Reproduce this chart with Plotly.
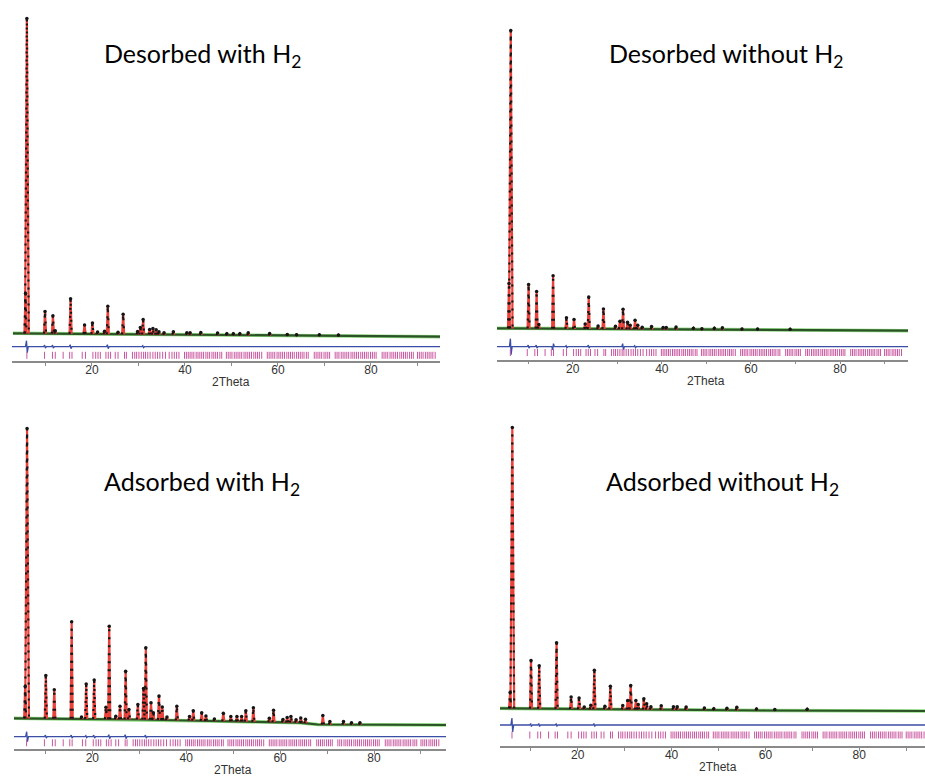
import numpy as np
import plotly.graph_objects as go

# ---------------- data ----------------
TITLES = ["Desorbed with H<sub>2</sub>", "Desorbed without H<sub>2</sub>",
          "Adsorbed with H<sub>2</sub>", "Adsorbed without H<sub>2</sub>"]
X_TICKS = [20, 40, 60, 80]
X_TICK_TEXT = ["20", "40", "60", "80"]
X_MINOR_TICKS = [10, 30, 50, 70, 90]
X_LABEL = "2Theta"

# Peak positions (2Theta) and observed peak heights above background (a.u.)
TL_POS = [5.7, 6.0, 9.9, 11.6, 12.1, 15.4, 18.4, 20.1, 21.2, 22.7, 23.4, 25.6, 26.7, 29.8, 30.4,
          31.0, 32.4, 33.1, 33.8, 34.4, 35.5, 37.5, 40.4, 41.1, 43.4, 47.0, 49.0, 50.4, 51.8, 53.6,
          58.2, 62.0, 64.0, 68.9, 73.0]
TL_INT = [40, 315, 22, 18, 3, 35, 9, 11, 2, 3, 28, 2, 20, 3, 7,
          15, 5, 6, 5, 3, 2, 3, 2, 2, 2.5, 2, 1.5, 1.5, 1.5, 2.5,
          2, 1, 1, 1, 1]

TR_POS = [5.7, 6.1, 10.1, 11.9, 12.4, 15.6, 18.6, 20.3, 22.8, 23.6, 25.7, 26.9, 29.6, 30.6, 31.3,
          32.3, 32.9, 34.0, 34.6, 35.6, 37.7, 40.3, 41.0, 43.2, 47.1, 49.0, 51.8, 53.6, 58.0, 61.5,
          68.8]
TR_INT = [45, 298, 44, 37, 4, 53, 11, 9.5, 5, 32, 3, 20, 3, 8, 20,
          7, 4, 9, 4, 2, 3, 2, 2, 2.5, 1.5, 1, 1.5, 2, 1, 1,
          1]

BL_POS = [5.7, 6.1, 10.1, 11.9, 15.6, 17.7, 18.7, 20.4, 22.9, 23.6, 25.0, 25.9, 27.1, 27.8, 29.7,
          30.9, 31.4, 32.5, 33.0, 34.2, 34.9, 35.9, 38.0, 40.7, 41.5, 43.3, 44.2, 46.0, 47.9, 49.5,
          50.8, 51.8, 52.7, 54.3, 57.7, 58.6, 60.6, 61.5, 62.3, 63.4, 64.4, 65.4, 69.1, 70.6, 73.5,
          75.2, 77.0]
BL_INT = [32, 290, 43, 29, 97, 2, 35, 39, 12, 93, 3, 13, 48, 10, 15,
          31, 72, 17, 7, 24, 13, 3, 14, 4, 10, 8, 5, 2, 8, 5,
          5, 5, 11, 14, 4, 12, 3, 5, 6, 3, 5, 4, 9, 3, 3,
          2, 2]

BR_POS = [5.6, 6.07, 10.06, 11.8, 15.5, 18.6, 20.3, 21.4, 22.8, 23.55, 25.8, 26.96, 29.6, 30.65, 31.3,
          32.4, 32.9, 34.1, 34.7, 35.6, 37.8, 40.4, 41.2, 43.1, 47.0, 49.0, 51.8, 53.9, 58.1, 62.0,
          68.9]
BR_INT = [16, 281, 48, 43, 66, 12, 11, 2, 4, 39, 3, 23, 4, 9, 24,
          9, 5, 11, 6, 3, 4, 3, 3, 3, 2, 1.5, 2, 3, 1.5, 1,
          1.5]

# Background (2Theta, level)
TL_BG_X = [3, 30, 60, 95]
TL_BG_Y = [27.7, 26.5, 25.5, 24.3]
TR_BG_X = [3, 30, 60, 96]
TR_BG_Y = [31.2, 30.3, 29.5, 28.8]
BL_BG_X = [3, 30, 45, 64, 68, 96]
BL_BG_Y = [30.7, 29.5, 28.0, 26.3, 24.5, 24.0]
BR_BG_X = [3, 30, 60, 95]
BR_BG_Y = [37.7, 36.5, 35.5, 35.0]

# Difference (obs - calc) spikes
TL_DIFF_X = [6.0, 9.9, 11.6, 15.4, 23.4, 31.0]
TL_DIFF_A = [6, 1.5, 1.5, 2, 2, 1]
TR_DIFF_X = [6.1, 10.1, 11.9, 15.6, 18.6, 23.6, 31.3, 34.0]
TR_DIFF_A = [8, 1.5, 1.5, -3, 1, 1.5, 3, 1]
BL_DIFF_X = [6.1, 10.1, 15.6, 18.7, 20.4, 23.6, 27.1, 31.4]
BL_DIFF_A = [5, 1.5, 1.5, 1, 1.5, 2, 2, 1.5]
BR_DIFF_X = [6.07, 10.06, 11.8, 15.5, 23.55]
BR_DIFF_A = [7, 1.5, 1.5, 1, 1.5]

# Reflection positions (2Theta)
REFLECTIONS = [6.0, 9.8, 11.5, 12.1, 13.8, 15.2, 15.7, 17.9, 18.6, 20.2, 20.8, 21.3, 21.8, 23.0,
               23.5, 24.0, 25.0, 25.6, 27.0, 27.4, 28.7, 29.2, 29.6, 30.1, 30.6, 31.1, 31.5, 32.0,
               32.5, 33.1, 33.6, 34.1, 34.6, 35.2, 35.8, 36.6,
               37.2, 37.7, 38.2, 38.7, 39.9, 40.3, 40.7, 41.1, 41.5, 41.9, 42.4, 42.8, 43.2, 43.6,
               44.0, 44.5, 44.9, 45.3, 45.8, 46.2, 46.6, 47.0, 47.5, 47.9, 48.9, 49.3, 49.7, 50.1,
               50.6, 51.0, 51.4, 51.8, 52.2, 52.7, 53.1, 53.5, 53.9, 54.3, 54.8, 55.2, 55.6, 56.0,
               56.5, 57.7, 58.1, 58.5, 58.9, 59.3, 59.8, 60.2, 60.6, 61.0, 61.4, 61.9, 62.3, 62.7,
               63.1, 63.5, 64.0, 64.4, 64.8, 65.2, 65.6, 66.1, 66.5, 67.8, 68.2, 68.6, 69.0, 69.4,
               69.9, 70.3, 70.7, 71.1, 72.3, 72.7, 73.1, 73.6, 74.0, 74.4, 74.8, 75.2, 75.7, 76.1,
               76.5, 76.9, 77.3, 77.8, 78.2, 78.6, 79.0, 79.4, 79.9, 80.3, 80.7, 81.1, 82.4, 82.8,
               83.2, 83.6, 84.1, 84.5, 84.9, 85.3, 85.7, 86.2, 86.6, 87.0, 87.4, 87.8, 88.3, 88.7,
               89.1, 90.0, 90.4, 90.8, 91.2, 91.7, 92.1, 92.5, 92.9, 93.3, 93.8]

# ---------------- layout geometry (pixels) ----------------
W, H = 925, 776
PANELS = [
    dict(pos=TL_POS, inten=TL_INT, bgx=TL_BG_X, bgy=TL_BG_Y, dx=TL_DIFF_X, da=TL_DIFF_A,
         l=12, r=440, xr=[2.8, 94.84], ay=361, top=10, diff=14.3, tick=5.7, title=(202, 55)),
    dict(pos=TR_POS, inten=TR_INT, bgx=TR_BG_X, bgy=TR_BG_Y, dx=TR_DIFF_X, da=TR_DIFF_A,
         l=497, r=908, xr=[3.01, 95.26], ay=359.5, top=10, diff=12.8, tick=7.0, title=(726, 55)),
    dict(pos=BL_POS, inten=BL_INT, bgx=BL_BG_X, bgy=BL_BG_Y, dx=BL_DIFF_X, da=BL_DIFF_A,
         l=14, r=446, xr=[3.32, 95.33], ay=749, top=410, diff=12.3, tick=6.2, title=(202, 483)),
    dict(pos=BR_POS, inten=BR_INT, bgx=BR_BG_X, bgy=BR_BG_Y, dx=BR_DIFF_X, da=BR_DIFF_A,
         l=500, r=925, xr=[3.45, 94.0], ay=746, top=410, diff=21.0, tick=11.0, title=(722, 483)),
]

RED = "#e8423a"
BLACK = "#151515"
DKGREEN = "#2c5228"
LTGREEN = "#8fdc7f"
BLUE = "#3b4ea6"
MAGENTA = "#c8559e"
AXGRAY = "#8a8a8a"

fig = go.Figure()
annotations = []

for i, p in enumerate(PANELS):
    n = "" if i == 0 else str(i + 1)
    xa, ya = "x" + n, "y" + n
    px, py = [], []
    for pos, h in zip(p["pos"], p["inten"]):
        b = float(np.interp(pos, p["bgx"], p["bgy"]))
        w = 0.4 if h > 150 else 0.22
        px += [pos - w, pos, pos + w, None]
        py += [b, b + h, b, None]
    apy = [float(np.interp(pos, p["bgx"], p["bgy"])) + h for pos, h in zip(p["pos"], p["inten"])]

    # background
    fig.add_trace(go.Scatter(x=p["bgx"], y=p["bgy"], mode="lines", xaxis=xa, yaxis=ya,
                             line=dict(color=LTGREEN, width=3.5), hoverinfo="skip"))
    fig.add_trace(go.Scatter(x=p["bgx"], y=p["bgy"], mode="lines", xaxis=xa, yaxis=ya,
                             line=dict(color=DKGREEN, width=2.2), hoverinfo="skip"))
    # calculated
    fig.add_trace(go.Scatter(x=px, y=py, mode="lines", xaxis=xa, yaxis=ya,
                             line=dict(color=RED, width=2.2), hoverinfo="skip"))
    # observed
    fig.add_trace(go.Scatter(x=px, y=py, mode="lines", xaxis=xa, yaxis=ya,
                             line=dict(color=BLACK, width=2.2, dash="2px,6px"), hoverinfo="skip"))
    fig.add_trace(go.Scatter(x=p["pos"], y=apy, mode="markers", xaxis=xa, yaxis=ya,
                             marker=dict(color=BLACK, size=3.5), hoverinfo="skip"))
    # difference curve
    dxs, dys = [p["xr"][0]], [p["diff"]]
    for pos, a in sorted(zip(p["dx"], p["da"])):
        dxs += [pos - 0.3, pos - 0.08, pos + 0.08, pos + 0.3]
        dys += [p["diff"], p["diff"] + a, p["diff"] - a, p["diff"]]
    dxs.append(p["xr"][1])
    dys.append(p["diff"])
    fig.add_trace(go.Scatter(x=dxs, y=dys, mode="lines", xaxis=xa, yaxis=ya,
                             line=dict(color=BLUE, width=1.3), hoverinfo="skip"))
    # reflection markers
    fig.add_trace(go.Scatter(x=REFLECTIONS, y=[p["tick"]] * len(REFLECTIONS), mode="markers",
                             xaxis=xa, yaxis=ya, hoverinfo="skip",
                             marker=dict(symbol="line-ns-open", size=5, color=MAGENTA,
                                         line=dict(color=MAGENTA, width=1))))

    fig.layout["xaxis" + n] = dict(
        domain=[p["l"] / W, p["r"] / W], range=p["xr"], anchor=ya,
        showline=True, linecolor=AXGRAY, linewidth=1.5, mirror=False,
        showgrid=False, zeroline=False, ticks="outside", ticklen=3, tickwidth=1,
        tickcolor=AXGRAY, tickvals=X_TICKS, ticktext=X_TICK_TEXT, ticklabelstandoff=-6,
        minor=dict(tickvals=X_MINOR_TICKS, ticks="outside", ticklen=3, tickcolor=AXGRAY,
                   showgrid=False),
        tickfont=dict(family="Liberation Sans", size=12, color="#333333"))
    fig.layout["yaxis" + n] = dict(
        domain=[(H - p["ay"]) / H, (H - p["top"]) / H], range=[0, p["ay"] - p["top"]],
        anchor=xa, visible=False, showgrid=False, zeroline=False)

    annotations.append(dict(text=X_LABEL, xref=xa, x=50, yref="paper",
                            y=(H - (p["ay"] + 21)) / H, yanchor="middle", showarrow=False,
                            font=dict(family="Liberation Sans", size=12, color="#333333")))
    tx, ty = p["title"]
    annotations.append(dict(text=TITLES[i], xref="paper", yref="paper",
                            x=tx / W, y=(H - ty) / H, xanchor="center", yanchor="middle",
                            showarrow=False,
                            font=dict(family="Lato", size=25, color="#000000")))

fig.update_layout(width=W, height=H, margin=dict(l=0, r=0, t=0, b=0),
                  plot_bgcolor="white", paper_bgcolor="white", showlegend=False,
                  hovermode=False, annotations=annotations)

fig.write_html("out.html", config={"displayModeBar": False},
               post_script="document.body.style.margin='0px';")
